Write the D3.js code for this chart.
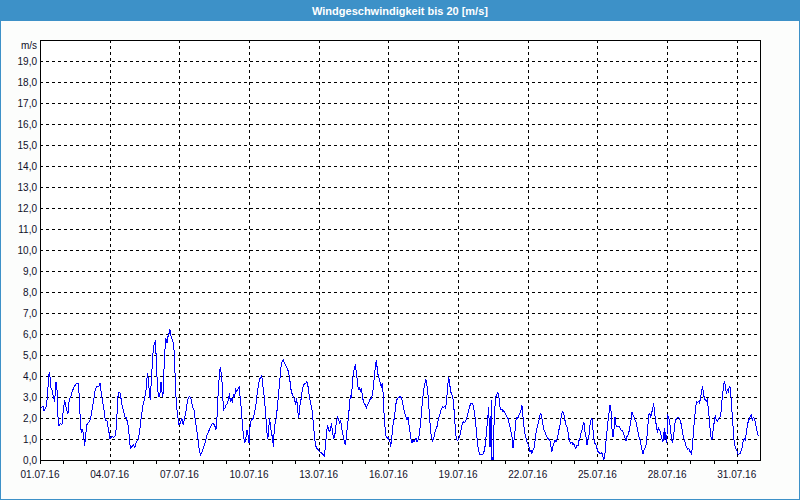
<!DOCTYPE html>
<html>
<head>
<meta charset="utf-8">
<script src="https://cdn.jsdelivr.net/npm/d3@7"></script>
<style>
  html, body { margin: 0; padding: 0; background: #fcfdfc; }
  svg { display: block; }
  text { font-family: "Liberation Sans", Arial, sans-serif; }
</style>
</head>
<body>
<svg id="chart" width="800" height="500"></svg>
<script>
// ---- data ----
const chartTitle = "Windgeschwindigkeit bis 20 [m/s]";
const unitLabel = "m/s";
const startDate = "01.07.16";
const endDate = "01.08.16";
const xTickLabels = ["01.07.16","04.07.16","07.07.16","10.07.16","13.07.16","16.07.16","19.07.16","22.07.16","25.07.16","28.07.16","31.07.16"];
const yTickValues = [0,1,2,3,4,5,6,7,8,9,10,11,12,13,14,15,16,17,18,19];

// hours after 01.07.16 00:00
const hours = [
0,3.1,4.1,6.2,7.6,9.0,10.0,11.0,12.4,13.8,15.1,16.5,17.6,18.6,19.6,21.0,22.7,24.1,25.5,26.5,27.5,28.9,30.3,31.7,33.1,35.1,37.5,39.9,41.0,42.0,43.0,44.1,45.1,46.1,47.2,48.2,50.3,52.3,54.1,55.8,57.2,58.9,60.9,62.0,63.4,64.7,66.1,67.5,69.2,70.9,72.3,74.4,76.4,78.2,79.2,80.6,81.6,83.0,84.4,86.1,87.5,89.2,90.9,92.3,93.3,95.0,96.7,98.1,99.5,101.2,102.9,104.7,106.4,108.1,109.8,110.9,111.9,112.9,113.9,115.0,116.0,117.1,118.1,119.1,120.2,120.9,121.9,122.9,123.9,125.0,126.0,127.0,128.1,129.1,130.1,131.2,132.2,133.2,134.3,135.3,136.7,138.1,139.1,140.1,141.2,142.5,143.6,145.3,146.7,148.0,149.4,150.5,151.8,153.2,154.9,156.3,157.7,159.1,160.4,161.8,163.2,164.6,166.0,167.7,169.1,170.8,172.5,174.2,176.3,178.3,180.4,181.8,183.2,184.5,185.6,
186.1,186.7,187.4,188.5,189.5,190.9,192.3,193.6,195.0,195.7,196.7,197.8,198.8,199.8,201.2,202.2,203.3,204.7,205.7,206.7,208.1,209.1,210.2,211.5,212.9,213.9,215.0,216.0,216.7,217.7,219.1,220.5,221.9,223.3,224.6,226.0,227.4,228.8,229.8,230.8,231.9,232.9,233.9,235.0,236.0,237.0,238.1,239.1,240.1,241.2,242.2,243.2,244.3,245.3,246.3,247.4,248.4,249.4,250.5,251.5,252.5,253.9,255.3,256.7,258.0,259.1,260.4,261.8,263.2,264.2,265.3,266.3,267.3,268.4,269.4,270.8,272.2,273.5,274.9,275.9,277.0,278.4,279.7,281.1,282.5,283.5,284.6,285.9,287.3,288.7,290.1,291.4,292.8,293.9,294.9,295.9,297.0,298.0,299.0,300.1,301.1,302.1,303.2,304.5,305.6,306.6,307.6,308.7,309.7,310.7,311.8,312.8,314.2,315.6,316.6,317.6,318.7,319.7,320.7,321.8,322.8,323.8,324.9,325.9,326.9,328.0,329.0,330.0,331.0,332.1,333.1,334.1,335.2,336.2,337.2,338.3,339.3,340.3,341.4,342.4,343.4,344.5,345.5,346.5,347.6,348.6,349.6,350.7,351.7,352.7,353.8,354.8,355.5,356.5,357.6,358.6,359.6,360.7,361.7,362.4,363.4,364.5,365.5,366.5,367.6,368.6,369.6,
370.9,372.0,373.0,374.0,375.1,376.1,377.1,378.2,379.2,380.2,381.3,382.3,383.3,384.4,385.4,386.4,387.5,388.5,389.5,390.6,391.6,392.6,393.7,394.7,395.7,396.8,397.8,398.8,399.5,400.6,401.6,402.6,403.7,404.7,405.7,406.8,407.8,408.8,409.9,410.9,411.9,413.0,414.0,415.0,416.1,417.1,418.1,419.2,420.2,421.2,422.3,423.3,424.3,425.3,426.4,427.4,428.4,429.5,430.5,431.5,432.6,433.6,434.6,435.7,436.7,437.7,438.8,439.8,440.8,441.9,442.9,443.9,445.0,446.0,447.0,448.1,449.1,450.1,451.2,452.2,453.2,454.3,455.3,456.3,457.4,458.4,459.4,460.5,461.5,462.5,463.6,464.3,465.0,465.6,466.0,466.3,466.7,467.4,468.1,468.4,469.1,469.8,470.5,471.2,472.2,473.2,474.3,475.3,476.3,477.4,478.4,479.4,480.5,481.5,482.5,483.6,484.6,485.6,486.7,487.7,488.7,489.8,490.8,491.8,492.9,493.9,494.9,496.0,497.0,498.0,499.1,500.1,501.1,502.2,503.2,504.2,505.3,506.3,507.3,508.3,509.4,510.4,511.4,512.5,513.5,514.5,515.6,516.6,517.6,518.7,519.7,520.7,521.8,522.8,523.8,524.9,525.9,526.9,528.0,529.0,530.0,531.1,532.1,533.1,534.2,535.2,536.2,537.3,538.3,539.3,540.4,541.4,542.4,543.5,544.5,545.5,546.6,547.6,548.6,549.7,550.7,551.7,552.8,553.8,554.8,555.9,556.9,
558.0,559.0,560.0,561.1,562.1,563.1,564.2,565.2,566.2,567.3,568.3,569.3,570.4,571.4,572.4,573.5,574.5,575.5,576.6,577.6,578.6,579.7,580.7,581.7,582.8,583.8,584.8,585.9,586.9,587.9,589.0,590.0,591.0,592.1,593.1,594.1,595.2,596.2,597.2,598.3,599.3,600.3,601.4,602.4,603.4,604.5,605.5,606.5,607.6,608.6,609.6,610.7,611.7,612.7,613.8,614.8,615.8,616.9,617.9,618.9,620.0,621.0,622.0,623.1,624.1,625.1,626.2,627.2,628.2,628.9,630.0,631.0,632.0,633.1,634.1,635.1,636.1,637.2,638.2,639.2,640.3,641.3,642.3,643.4,644.4,645.1,645.8,646.5,647.2,647.9,648.5,649.6,650.6,651.6,652.7,653.7,654.7,655.8,656.8,657.8,658.9,659.9,660.9,662.0,663.0,664.0,665.1,666.1,667.1,668.2,669.2,670.2,671.3,672.3,673.3,674.4,675.4,676.4,677.5,678.5,679.5,680.6,681.6,682.6,683.7,684.4,685.4,686.4,687.5,688.5,689.5,690.6,691.6,692.6,693.7,694.7,695.7,696.8,697.8,698.8,699.9,700.9,701.9,703.0,704.0,705.0,706.1,707.1,708.1,709.2,710.2,711.2,712.3,713.3,714.3,715.4,716.4,717.4,718.5,719.5,720.5,721.6,722.6,723.6,724.7,725.7,726.7,727.8,728.8,729.9,730.9,731.9,733.0,734.0,735.0,736.0,737.1,738.1,739.1,740.2,741.2,742.2
];

// wind speed [m/s]
const speeds = [
2.46,2.57,2.33,2.54,2.94,4.05,4.19,3.49,3.33,3.02,2.78,3.73,3.33,2.06,1.63,1.75,1.67,2.38,2.86,2.62,2.38,2.22,2.94,2.98,3.25,3.46,3.65,3.62,2.54,1.51,1.35,1.46,1.11,0.67,1.19,1.67,1.79,1.98,2.46,2.94,3.41,3.49,3.52,3.68,3.17,2.78,2.38,1.90,1.87,1.43,1.03,1.11,1.08,1.19,1.90,3.02,3.22,3.17,2.70,2.38,2.06,2.03,1.67,1.11,0.56,0.63,0.71,0.60,0.87,0.95,1.35,2.06,2.62,2.94,3.41,4.13,3.89,3.25,2.86,3.73,4.52,5.32,5.56,5.63,4.84,3.97,3.25,3.02,3.10,3.73,3.25,3.02,4.29,5.24,5.79,5.56,5.87,6.00,6.22,5.90,5.71,5.56,4.76,3.33,2.54,2.06,1.67,1.78,1.98,1.67,1.98,2.22,2.62,2.98,3.02,2.86,2.54,2.38,1.90,1.51,1.03,0.48,0.24,0.40,0.63,0.87,1.19,1.35,1.59,1.75,1.67,1.43,2.22,3.65,4.05,
4.41,4.21,4.13,3.49,2.38,2.46,2.62,2.70,2.94,3.21,2.78,2.94,2.70,3.10,3.02,3.37,3.25,3.41,3.49,3.02,2.38,1.75,1.19,0.79,1.11,1.43,1.19,0.79,1.43,1.83,1.94,1.98,2.30,2.70,3.25,3.65,3.89,4.00,3.81,3.33,2.94,2.38,1.75,1.03,1.11,1.98,1.67,1.27,1.11,0.63,1.59,1.75,2.06,2.54,3.02,3.57,4.13,4.60,4.73,4.76,4.60,4.52,4.37,4.21,3.89,3.41,3.17,3.02,2.86,2.62,2.94,2.38,1.98,2.54,2.78,3.25,3.57,3.62,3.68,3.73,3.49,3.02,2.70,2.38,1.75,1.19,0.71,0.56,0.51,0.40,0.35,0.32,0.24,0.19,0.63,1.19,1.67,1.51,1.35,1.43,1.75,1.43,1.03,1.11,1.59,1.90,2.03,1.90,1.75,1.90,1.51,1.27,0.95,0.71,1.11,1.59,2.06,2.54,3.10,2.94,3.65,4.13,4.37,4.57,4.13,3.73,3.33,3.49,3.25,3.41,3.10,2.78,2.70,2.62,2.46,2.62,2.70,2.78,2.94,2.94,3.10,3.49,3.97,4.44,4.76,4.29,3.97,3.89,3.65,3.49,3.65,3.02,2.22,1.59,1.11,1.03,1.11,0.95,0.87,0.63,1.03,1.59,1.83,2.14,2.62,2.86,2.94,
2.98,3.02,2.98,2.86,2.62,2.38,2.22,2.03,1.90,2.06,1.67,1.35,1.03,0.83,0.95,0.87,0.95,1.03,0.87,0.95,1.11,1.51,1.98,2.54,3.02,3.41,3.65,3.84,3.65,3.33,2.70,1.98,1.35,1.03,0.90,1.03,1.27,1.43,1.51,1.75,1.98,2.14,2.30,2.46,2.54,2.51,2.54,2.46,2.86,3.49,3.97,3.65,3.25,3.17,3.02,2.70,1.98,1.27,0.98,0.92,1.03,1.11,1.35,1.59,1.75,1.83,1.78,1.87,1.98,2.14,2.38,2.54,2.67,2.70,2.70,2.46,2.22,1.75,1.27,0.71,0.48,0.24,0.24,0.24,0.27,0.35,0.48,0.87,1.43,1.90,2.54,1.59,0.63,0.95,1.90,2.86,0.00,0.16,0.00,0.32,1.59,2.38,2.70,3.02,3.14,3.21,2.94,2.54,2.38,2.41,2.30,2.35,2.25,2.14,2.06,1.98,1.75,1.59,1.35,1.11,0.56,0.95,1.35,1.90,2.06,1.98,2.14,2.22,2.38,2.62,2.06,1.59,1.27,1.03,0.87,0.79,0.63,0.40,0.48,0.32,0.48,0.56,0.87,1.27,1.51,1.67,1.90,2.14,2.22,1.98,1.67,1.43,1.35,1.19,1.11,1.03,0.98,0.95,0.63,0.40,0.63,0.79,0.95,0.87,0.98,1.19,1.43,1.67,1.98,2.22,2.30,2.14,1.90,1.67,1.59,1.35,1.03,0.87,0.79,0.87,0.71,0.79,0.63,0.56,0.71,0.67,0.92,
1.03,1.27,1.43,1.67,1.78,1.35,1.11,0.71,0.95,1.19,1.67,1.90,1.98,1.43,0.95,0.79,0.71,0.56,0.40,0.35,0.32,0.29,0.35,0.16,0.03,0.32,0.87,1.35,1.83,2.22,2.62,2.38,1.51,1.11,1.43,2.06,1.67,1.59,1.62,1.59,1.51,1.43,1.40,1.35,1.19,1.03,0.92,1.11,1.19,1.35,1.59,1.90,2.30,2.14,2.06,1.90,1.83,1.59,1.35,1.11,0.98,0.71,0.48,0.27,0.48,0.56,0.71,1.11,1.67,2.14,2.22,2.06,2.22,2.46,2.70,2.22,1.90,1.51,1.35,1.51,1.43,1.27,1.11,0.87,1.03,1.51,0.95,1.35,0.79,1.19,2.14,2.06,1.83,1.43,0.95,0.87,1.11,1.67,1.90,1.98,2.03,2.03,1.98,1.83,1.59,1.27,1.03,0.95,0.71,0.60,0.51,0.56,0.44,0.35,0.27,0.79,1.43,1.98,2.54,2.78,2.73,2.78,2.70,3.02,3.25,3.52,3.25,2.94,2.86,2.78,2.86,2.46,1.98,1.35,0.98,1.03,1.51,1.83,2.14,1.90,1.83,1.94,2.03,2.06,2.38,3.02,3.41,3.78,3.57,3.17,3.33,3.25,3.49,3.46,2.86,2.06,1.43,0.79,0.63,0.48,0.40,0.24,0.29,0.32,0.48,0.63,0.95,1.03,0.95,1.27,1.67,1.83,1.98,2.06,2.14,1.90,2.03,1.98,1.83,1.51,1.35,1.14
];

// ---- drawing ----
const W = 800, H = 500;
const plot = { left: 40, right: 760, top: 40, bottom: 460 };
const parseDay = d3.timeParse("%d.%m.%y");
const t0 = parseDay(startDate), t1 = parseDay(endDate);

const x = d3.scaleTime().domain([t0, t1]).range([plot.left, plot.right]);
const y = d3.scaleLinear().domain([0, 20]).range([plot.bottom, plot.top]);

const svg = d3.select("#chart");
const blue = "#3d91c8";
const textColor = "#10102a";

svg.append("rect").attr("x", 0).attr("y", 0).attr("width", W).attr("height", H).attr("fill", "#fcfdfc");
// title bar
svg.append("rect").attr("x", 0).attr("y", 0).attr("width", W).attr("height", 21).attr("fill", blue);
svg.append("text").attr("x", W / 2).attr("y", 14.5).attr("text-anchor", "middle")
  .attr("fill", "#ffffff").attr("font-size", "11px").attr("font-weight", "bold").text(chartTitle);

// plot background
svg.append("rect").attr("x", plot.left).attr("y", plot.top)
  .attr("width", plot.right - plot.left).attr("height", plot.bottom - plot.top).attr("fill", "#ffffff");

const xTickDates = xTickLabels.map(parseDay);
const days = d3.timeDay.range(t0, t1);
const locale = d3.formatLocale({ decimal: ",", thousands: ".", grouping: [3], currency: ["", "€"] });
const fmtY = locale.format(".1f");

// gridlines
const grid = svg.append("g").attr("stroke", "#000").attr("stroke-width", 1)
  .attr("stroke-dasharray", "3,3").attr("shape-rendering", "crispEdges");
grid.selectAll("line.h").data(yTickValues.filter(v => v > 0)).join("line")
  .attr("x1", plot.left).attr("x2", plot.right)
  .attr("y1", d => Math.round(y(d)) + 0.5).attr("y2", d => Math.round(y(d)) + 0.5);
grid.selectAll("line.v").data(xTickDates.slice(1)).join("line")
  .attr("y1", plot.top).attr("y2", plot.bottom)
  .attr("x1", d => Math.round(x(d)) + 0.5).attr("x2", d => Math.round(x(d)) + 0.5);

// data line
const line = d3.line()
  .x((d, i) => x(t0.getTime() + hours[i] * 3600000))
  .y((d) => y(d));
svg.append("defs").append("clipPath").attr("id", "clip").append("rect")
  .attr("x", plot.left).attr("y", plot.top).attr("width", plot.right - plot.left).attr("height", plot.bottom - plot.top);
svg.append("path").datum(speeds).attr("d", line).attr("fill", "none")
  .attr("stroke", "#0000ff").attr("stroke-width", 1).attr("shape-rendering", "crispEdges")
  .attr("clip-path", "url(#clip)");

// frame
svg.append("rect").attr("x", plot.left + 0.5).attr("y", plot.top + 0.5)
  .attr("width", plot.right - plot.left).attr("height", plot.bottom - plot.top)
  .attr("fill", "none").attr("stroke", "#000").attr("shape-rendering", "crispEdges");

// x axis ticks (daily) and labels
const xAxis = d3.axisBottom(x).tickValues(days).tickSize(4).tickFormat("");
svg.append("g").attr("transform", `translate(0,${plot.bottom})`).call(xAxis)
  .call(g => g.select(".domain").remove())
  .call(g => g.selectAll("line").attr("stroke", "#000").attr("shape-rendering", "crispEdges"));
svg.append("g").selectAll("text").data(xTickDates).join("text")
  .attr("x", d => x(d)).attr("y", 478).attr("text-anchor", "middle")
  .attr("font-size", "10px").attr("fill", textColor)
  .text((d, i) => xTickLabels[i]);

// y axis labels
const yAxis = d3.axisLeft(y).tickValues(yTickValues).tickSize(0).tickPadding(3).tickFormat(fmtY);
svg.append("g").attr("transform", `translate(${plot.left},0)`).call(yAxis)
  .call(g => g.select(".domain").remove())
  .call(g => g.selectAll("text").attr("font-size", "10px").attr("fill", textColor)
    .attr("font-family", "'Liberation Sans', Arial, sans-serif"));
svg.append("text").attr("x", 37).attr("y", 49).attr("text-anchor", "end")
  .attr("font-size", "10px").attr("fill", textColor).text(unitLabel);

// outer border
svg.append("rect").attr("x", 0.5).attr("y", 0.5).attr("width", W - 1).attr("height", H - 1)
  .attr("fill", "none").attr("stroke", blue);
</script>
</body>
</html>
